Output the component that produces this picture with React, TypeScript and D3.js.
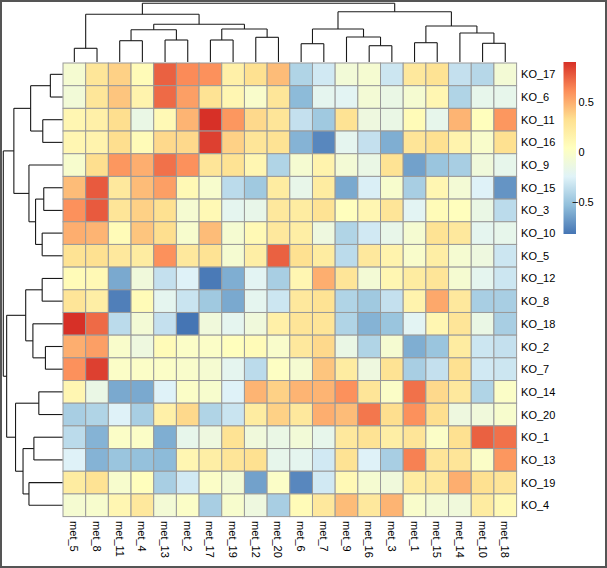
import React from "react";
import * as d3 from "d3";

const colLabels = ["met_5","met_8","met_11","met_4","met_13","met_2","met_17","met_19","met_12","met_20","met_6","met_7","met_9","met_16","met_3","met_1","met_15","met_14","met_10","met_18"];
const rowLabels = ["KO_17","KO_6","KO_11","KO_16","KO_9","KO_15","KO_3","KO_10","KO_5","KO_12","KO_8","KO_18","KO_2","KO_7","KO_14","KO_20","KO_1","KO_13","KO_19","KO_4"];

const heatValues: number[][] = [
  [-0.05,0.27,0.38,0.08,0.75,0.62,0.6,0.18,0.32,0.45,-0.42,-0.3,-0.08,-0.05,-0.32,0.25,0.3,-0.35,-0.4,-0.07],
  [-0.08,0.27,0.42,0.15,0.72,0.55,0.3,0.12,-0.02,0.27,-0.55,-0.2,-0.22,-0.07,-0.15,-0.05,0.12,-0.42,-0.18,-0.18],
  [0.12,0.18,0.33,-0.15,0.1,0.48,0.9,0.58,0.35,0.28,-0.35,-0.48,0.3,-0.12,-0.15,0.08,-0.18,0.48,0.05,0.58],
  [0.12,0.15,0.33,0.08,0.35,0.35,0.85,0.38,0.28,0.3,-0.58,-0.75,-0.2,-0.35,-0.6,0.28,0.32,0.15,-0.02,0.32],
  [-0.03,0.33,0.58,0.5,0.7,0.6,0.28,0.3,0.12,-0.42,-0.05,0.15,-0.07,-0.15,0.3,-0.65,-0.5,-0.45,-0.1,-0.18],
  [0.45,0.77,0.25,0.45,0.55,0.1,-0.03,-0.38,-0.48,0.22,-0.17,0.22,-0.62,-0.27,-0.03,-0.45,0.12,-0.07,-0.25,-0.7],
  [0.6,0.77,0.28,0.38,0.32,-0.05,0.1,-0.2,-0.17,0.25,0.22,0.3,0.05,0.12,0.28,-0.22,0.08,0.05,-0.15,-0.38],
  [0.5,0.48,0.08,0.42,0.33,-0.03,0.45,-0.05,0.1,0.25,0.2,-0.12,-0.42,-0.3,-0.17,-0.05,0.3,0.25,-0.2,-0.18],
  [0.3,0.32,0.25,0.22,0.6,0.25,0.3,-0.05,0.2,0.75,0.32,0.22,-0.38,0.25,0.15,-0.02,0.2,-0.05,-0.12,-0.32],
  [0.08,0.1,-0.62,-0.1,-0.35,-0.25,-0.8,-0.6,-0.22,-0.45,0.12,0.5,0.28,-0.07,0.12,0.22,0.28,-0.05,-0.2,-0.32],
  [0.28,0.2,-0.78,0.08,-0.2,-0.33,-0.48,-0.62,-0.2,-0.32,0.25,0.3,-0.42,-0.48,-0.35,0.15,0.52,0.25,-0.45,-0.45],
  [0.9,0.72,-0.38,-0.07,-0.35,-0.82,-0.1,-0.2,-0.1,0.18,0.28,0.28,-0.42,-0.58,-0.5,-0.22,0.12,0.28,-0.15,-0.45],
  [0.5,0.55,-0.02,-0.12,0.08,0,0,0.05,0.08,-0.02,0.25,0.35,-0.15,-0.42,-0.05,-0.6,-0.5,0.22,-0.32,-0.35],
  [0.6,0.85,0,0,0,-0.02,-0.05,-0.2,-0.38,0.02,-0.05,0.42,0.22,-0.12,0.3,-0.45,-0.35,0.32,-0.3,-0.32],
  [0.12,-0.15,-0.62,-0.62,-0.25,0,-0.03,-0.25,0.48,0.38,0.48,0.48,0.6,0.28,0,0.7,0.35,0.25,-0.42,0],
  [-0.45,-0.42,-0.25,-0.45,0.18,0.35,-0.42,-0.33,0.22,0.38,0.25,0.5,0.45,0.68,0.33,0.6,0.33,-0.12,-0.1,-0.03],
  [-0.38,-0.58,0,0,-0.6,-0.18,-0.12,0.3,-0.1,-0.15,-0.08,-0.18,0.25,0.3,0.2,0.28,0,0.32,0.75,0.7],
  [-0.25,-0.58,-0.5,-0.52,-0.55,0.12,0.2,0.28,0.32,-0.18,-0.2,-0.3,0.3,-0.25,-0.45,0.65,0.28,0.28,0,0.58],
  [0.22,0.3,-0.03,0.05,-0.45,-0.3,0,-0.07,-0.65,0,-0.75,-0.3,0.1,-0.05,-0.1,0.22,0.25,0.5,0.32,0.28],
  [-0.05,-0.03,0.12,0.25,-0.07,0,-0.45,-0.03,-0.12,-0.45,0.08,0.25,0.45,0.25,0.48,-0.02,-0.07,-0.1,0.22,0.1],
];

// dendrograms: [height, left, right]
type Tree = string | [number, Tree, Tree];
const colTree: Tree = [58.7,
  [47.7, [13.7, "met_5", "met_8"],
    [37.7, [32.3, [21.3, "met_11", "met_4"], [22, "met_13", "met_2"]],
      [33, [22, "met_17", "met_19"], [24.7, "met_12", "met_20"]]]],
  [50.3, [33, [18.3, "met_6", "met_7"], [25, "met_9", [16.3, "met_16", "met_3"]]],
    [36, [19.3, "met_1", "met_15"], [29, "met_14", [18.7, "met_10", "met_18"]]]]];

const rowTree: Tree = [60,
  [49.3, [32.3, [12.3, "KO_17", "KO_6"], [20, "KO_11", "KO_16"]],
    [34, "KO_9", [27.3, [19, "KO_15", "KO_3"], [20.6, "KO_10", "KO_5"]]]],
  [56.6, [37.3, [20.6, "KO_12", "KO_8"], [30, "KO_18", [17.3, "KO_2", "KO_7"]]],
    [47.6, [24, "KO_14", "KO_20"], [40, [29, "KO_1", "KO_13"], [34, "KO_19", "KO_4"]]]]];

const legendTicks = [-0.5, 0, 0.5];
const paletteColors = ["#4575B4", "#91BFDB", "#E0F3F8", "#FFFFBF", "#FEE090", "#FC8D59", "#D73027"];

const W = 607, H = 568;
const X0 = 63, X1 = 516.6, Y0 = 63, Y1 = 516.6;
const FONT = "'Liberation Sans', Arial, Helvetica, sans-serif";

type Seg = [number, number, number, number];
function layout(node: Tree, pos: (k: string) => number, segs: Seg[]): { p: number; h: number } {
  if (typeof node === "string") return { p: pos(node), h: 0 };
  const [h, a, b] = node;
  const la = layout(a, pos, segs);
  const lb = layout(b, pos, segs);
  segs.push([la.p, la.h, la.p, h]);
  segs.push([la.p, h, lb.p, h]);
  segs.push([lb.p, h, lb.p, lb.h]);
  return { p: (la.p + lb.p) / 2, h };
}
function maxH(t: Tree): number {
  return typeof t === "string" ? 0 : t[0];
}

export default function App() {
  const x = d3.scaleBand<string>().domain(colLabels).range([X0, X1]);
  const y = d3.scaleBand<string>().domain(rowLabels).range([Y0, Y1]);
  const bw = x.bandwidth();
  const bh = y.bandwidth();
  const all = heatValues.flat();
  const [vmin, vmax] = d3.extent(all) as [number, number];
  const color = d3
    .scaleLinear<string>()
    .domain(paletteColors.map((_, i) => vmin + (i * (vmax - vmin)) / (paletteColors.length - 1)))
    .range(paletteColors)
    .interpolate(d3.interpolateRgb);

  const colSegs: Seg[] = [];
  layout(colTree, (k) => (x(k) as number) + bw / 2, colSegs);
  const colH = d3.scaleLinear().domain([0, maxH(colTree)]).range([62, 3.3]);

  const rowSegs: Seg[] = [];
  layout(rowTree, (k) => (y(k) as number) + bh / 2, rowSegs);
  const rowH = d3.scaleLinear().domain([0, maxH(rowTree)]).range([62.5, 3.3]);

  const legY = d3.scaleLinear().domain([vmin, vmax]).range([234, 62]);
  const fmt = d3.format("~g");
  const gradStops = d3.range(paletteColors.length).map((i) => vmin + (i * (vmax - vmin)) / (paletteColors.length - 1));

  return (
    <svg width={W} height={H} style={{ position: "absolute", left: 0, top: 0, background: "#fff" }}>
      <defs>
        <linearGradient id="lg" x1="0" y1="1" x2="0" y2="0">
          {gradStops.map((v, i) => (
            <stop key={i} offset={(v - vmin) / (vmax - vmin)} stopColor={color(v)} />
          ))}
        </linearGradient>
      </defs>
      <rect x={0} y={0} width={W} height={H} fill="#fff" />
      {heatValues.map((row, ri) =>
        row.map((v, ci) => (
          <rect
            key={`${ri}-${ci}`}
            x={x(colLabels[ci])}
            y={y(rowLabels[ri])}
            width={bw}
            height={bh}
            fill={color(v)}
            stroke="#999999"
            strokeWidth={1}
          />
        ))
      )}
      <g stroke="#1a1a1a" strokeWidth={1.1} fill="none">
        {colSegs.map((s, i) => (
          <line key={`c${i}`} x1={s[0]} y1={colH(s[1])} x2={s[2]} y2={colH(s[3])} />
        ))}
        {rowSegs.map((s, i) => (
          <line key={`r${i}`} y1={s[0]} x1={rowH(s[1])} y2={s[2]} x2={rowH(s[3])} />
        ))}
      </g>
      <g fontFamily={FONT} fontSize={11} fill="#000">
        {rowLabels.map((r) => (
          <text key={r} x={X1 + 4.5} y={(y(r) as number) + bh / 2} dominantBaseline="central">
            {r}
          </text>
        ))}
        {colLabels.map((c) => (
          <text
            key={c}
            transform={`translate(${(x(c) as number) + bw / 2},${Y1 + 4.5}) rotate(90)`}
            dominantBaseline="central"
          >
            {c}
          </text>
        ))}
      </g>
      <rect x={563.5} y={62} width={12.5} height={172} fill="url(#lg)" />
      <g fontFamily={FONT} fontSize={11} fill="#000">
        {legendTicks.map((t) => (
          <text key={t} x={t < 0 ? 572 : 578.5} y={legY(t)} dominantBaseline="central">
            {fmt(t)}
          </text>
        ))}
      </g>
      <rect x={1} y={1} width={W - 2} height={H - 2} fill="none" stroke="#555" strokeWidth={2} />
    </svg>
  );
}
